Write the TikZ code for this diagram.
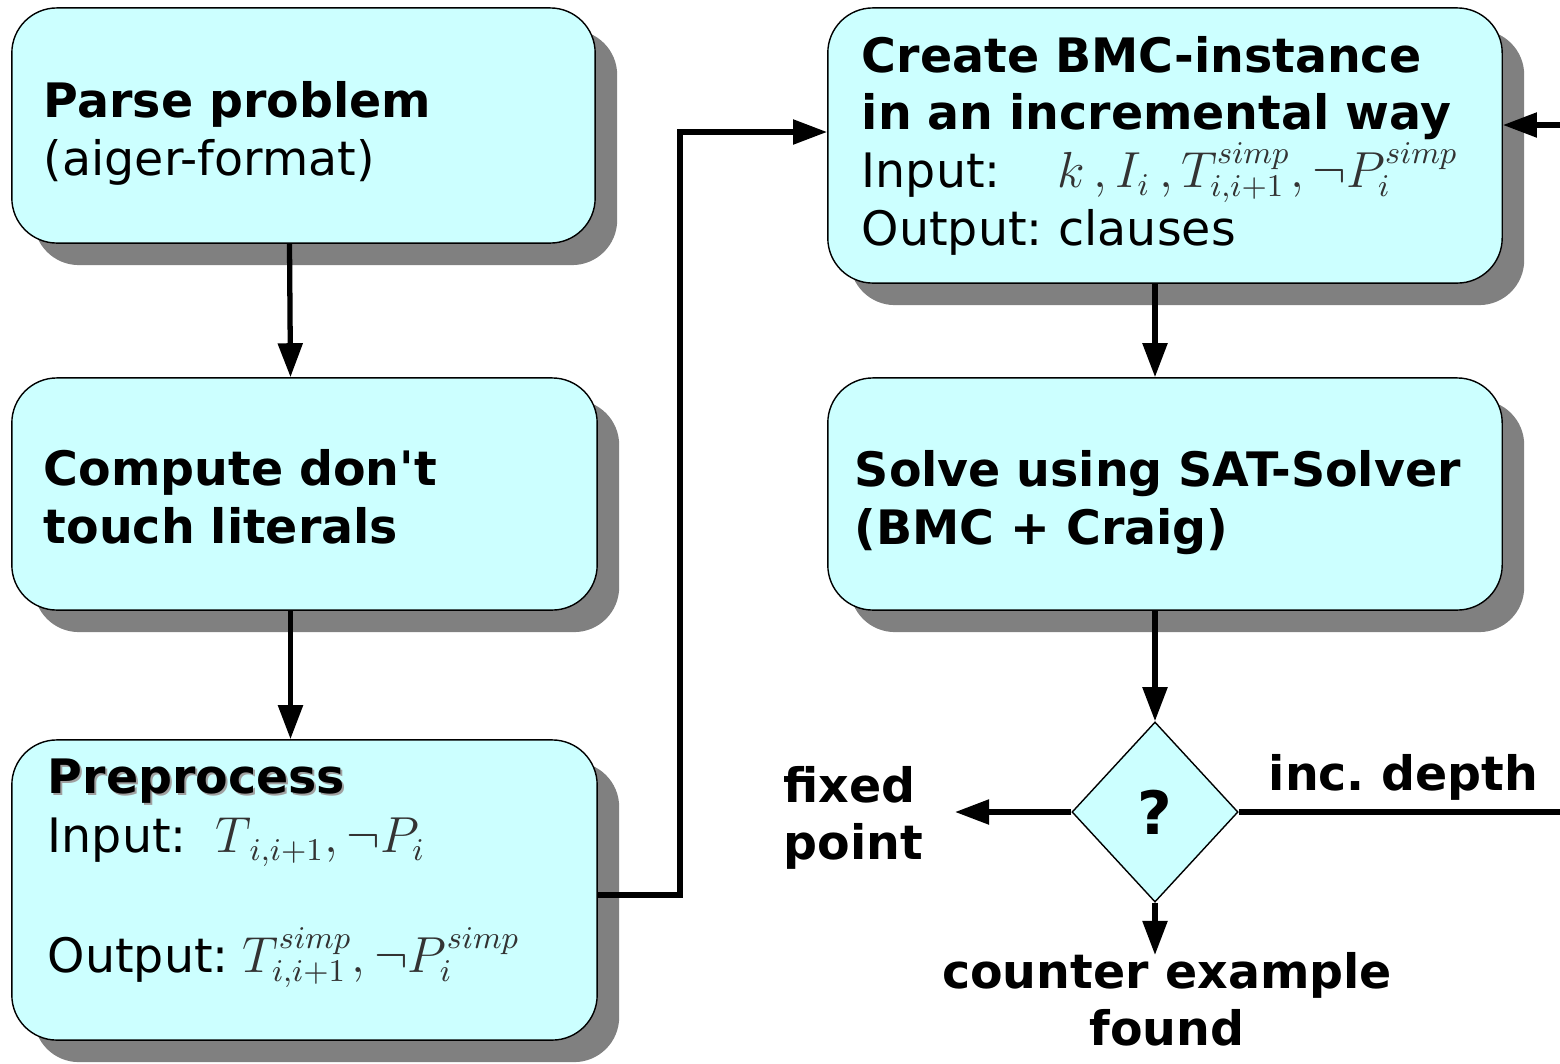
\documentclass[tikz,border=0pt]{standalone}
\usepackage[no-math]{fontspec}
\setmainfont{DejaVu Sans}
\usetikzlibrary{shapes.geometric,shadows,arrows.meta}
\definecolor{boxCyan}{HTML}{CCFFFF}
\definecolor{shadowGray}{HTML}{808080}
\definecolor{textShade}{HTML}{A0A0A0}
\definecolor{mathGray}{HTML}{333333}
\frenchspacing
\newcommand{\mth}[1]{\textcolor{mathGray}{$#1$}}
\newcommand{\shtext}[1]{\rlap{\kern0.6pt\raisebox{-0.6pt}{\textcolor{textShade}{#1}}}#1}
\tikzstyle{bS}=[rectangle,rounded corners=0.45cm,draw,thin,fill=boxCyan,drop shadow={shadow xshift=0.22cm,shadow yshift=-0.22cm,fill=shadowGray,opacity=1},inner xsep=0.32cm,inner ysep=0pt,align=left,font=\fontsize{13.5}{16.4}\selectfont]
\tikzstyle{qS}=[diamond,draw,thin,fill=boxCyan,minimum width=1.66cm,minimum height=1.80cm,inner sep=0pt,font=\fontsize{17}{20}\selectfont\bfseries]
\tikzstyle{tS}=[inner sep=0pt,font=\fontsize{13.5}{16.2}\selectfont\bfseries]
\tikzstyle{aS}=[line width=1.5pt,-{Triangle[length=0.34cm,width=0.24cm]}]
\tikzstyle{lS}=[line width=1.5pt]

\begin{document}
\begin{tikzpicture}[x=0.01cm,y=-0.01cm]
    \useasboundingbox (0,0) rectangle (1560,1063);
    % left column
    \draw (303.5,125.5) node[bS,minimum width=5.83cm,minimum height=2.35cm,text width=5.19cm] (nParse)
        {\rule{0pt}{14.8pt}\textbf{Parse problem}\\(aiger-format)};
    \draw (304.5,494) node[bS,minimum width=5.85cm,minimum height=2.32cm,text width=5.21cm] (nDont)
        {\rule{0pt}{11.7pt}\textbf{Compute don\textquotesingle t}\\\textbf{touch literals}};
    \draw (304.5,890) node[bS,minimum width=5.85cm,minimum height=3.00cm,inner xsep=0.36cm,text width=5.13cm] (nPre)
        {\textbf{\shtext{Preprocess}}\\[0.6pt]Input:\hspace{0.6em}\mth{T_{\,i,i+1},\neg P_i}\\[16.4pt]
         Output:\hspace{0.3em}\mth{T^{simp}_{i,i+1},\neg P^{simp}_i}\rule[-14pt]{0pt}{14pt}};
    % right column
    \draw (1165,145.5) node[bS,minimum width=6.74cm,minimum height=2.75cm,inner xsep=0.34cm,text width=6.06cm] (nBmc)
        {\textbf{Create BMC-instance}\\\textbf{in an incremental way}\\
         Input:\hspace{1.2em}\smash{\mth{k\,,I_i\,,T^{simp}_{i,i+1},\neg P^{simp}_i}}\\Output: clauses};
    \draw (1165,494) node[bS,minimum width=6.74cm,minimum height=2.32cm,inner xsep=0.27cm,text width=6.20cm] (nSat)
        {\rule{0pt}{15.1pt}\textbf{Solve using SAT-Solver}\\\textbf{(BMC + Craig)}};
    \draw (1155,812) node[qS] (nQ) {?};
    % labels
    \draw (783,818) node[tS,anchor=west,align=left] (nFix) {fixed\\point};
    \draw (1268,790) node[tS,anchor=base west] (nInc) {inc. depth};
    \draw (1167,999) node[tS,align=center] (nCex) {counter example\\found};
    % free ends
    \coordinate (bend) at (680,132);
    \coordinate (fixTip) at (955,812);
    \coordinate (cexTip) at (1155,955);
    \coordinate (incEnd) at (1560,812);
    \coordinate (incIn) at (1560,125);
    \path
        ([xshift=-0.14cm]nParse.south) edge[aS] ([xshift=-0.14cm]nDont.north)
        ([xshift=-0.14cm]nDont.south) edge[aS] ([xshift=-0.14cm]nPre.north)
        (nBmc.south -| nQ) edge[aS] (nSat.north -| nQ)
        (nSat.south -| nQ) edge[aS] (nQ.north)
        (nQ.west) edge[aS] (fixTip)
        (nQ.south) edge[aS] (cexTip)
        (nQ.east) edge[lS] (incEnd)
        (incIn) edge[aS] (incIn -| nBmc.east)
    ;
    \draw[aS] (nPre.east |- 0,895) -| (bend) -- (bend -| nBmc.west);
\end{tikzpicture}
\end{document}
